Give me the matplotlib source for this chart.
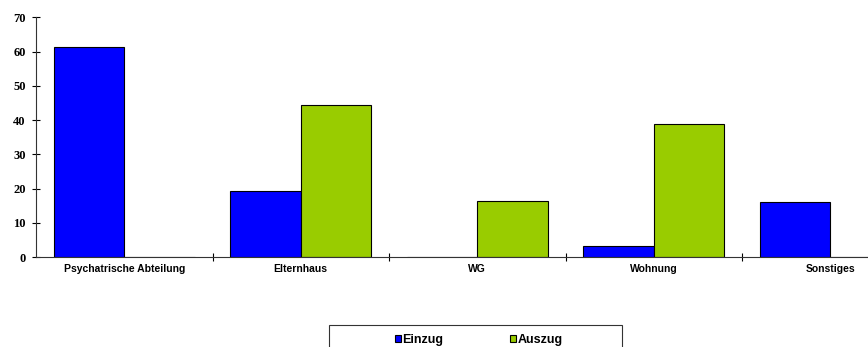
import numpy as np
import matplotlib.pyplot as plt
from matplotlib.patches import Rectangle

categories = ["Psychatrische Abteilung", "Elternhaus", "WG", "Wohnung", "Sonstiges"]
einzug = [61.2, 19.2, 0, 3.2, 16.2]
auszug = [0, 44.3, 16.4, 38.8, 0]

blue = "#0000FF"
green = "#99CC00"

fig = plt.figure(figsize=(8.68, 3.47), dpi=100)
# axis runs past the right edge of the picture, as in the original
ax = fig.add_axes([36 / 868, 90 / 347, 882.5 / 868, 239.7 / 347])

x = np.arange(len(categories))
w = 0.4
ax.bar(x - w / 2, einzug, w, color=blue, edgecolor="black", linewidth=0.8, label="Einzug")
ax.bar(x + w / 2, auszug, w, color=green, edgecolor="black", linewidth=0.8, label="Auszug")

ax.set_xlim(-0.5, len(categories) - 0.5)
ax.set_ylim(0, 70)
ax.set_yticks(range(0, 71, 10))

ax.set_xticks(x)
ax.set_xticklabels(categories, fontfamily="Liberation Sans", fontweight="bold", fontsize=7.5)
ax.set_xticks(np.arange(0.5, len(categories) - 0.5, 1), minor=True)
ax.tick_params(axis="x", which="major", length=0, pad=5)
ax.tick_params(axis="x", which="minor", direction="inout", length=6, width=0.8)
ax.tick_params(axis="y", direction="inout", length=6, width=0.8, pad=4.5)
for lab in ax.get_yticklabels():
    lab.set_fontfamily("Liberation Serif")
    lab.set_fontweight("bold")
    lab.set_fontsize(9)

for s in ["top", "right"]:
    ax.spines[s].set_visible(False)
for s in ["left", "bottom"]:
    ax.spines[s].set_linewidth(0.8)
    ax.spines[s].set_color("#333333")

# legend box (runs off the bottom of the picture)
fig.patches.append(Rectangle((329 / 868, -0.1), 292.7 / 868, 0.1 + 22 / 347,
                             transform=fig.transFigure, fill=False,
                             edgecolor="#333333", linewidth=0.8))
fig.legend(loc="upper left", bbox_to_anchor=(395 / 868, 1 - 333.5 / 347), ncol=2,
           frameon=False, borderpad=0, borderaxespad=0,
           handlelength=0.5, handleheight=0.5, handletextpad=0.1,
           columnspacing=5.3,
           prop={"family": "Liberation Sans", "weight": "bold", "size": 9})

fig.savefig("out.png", dpi=100)
